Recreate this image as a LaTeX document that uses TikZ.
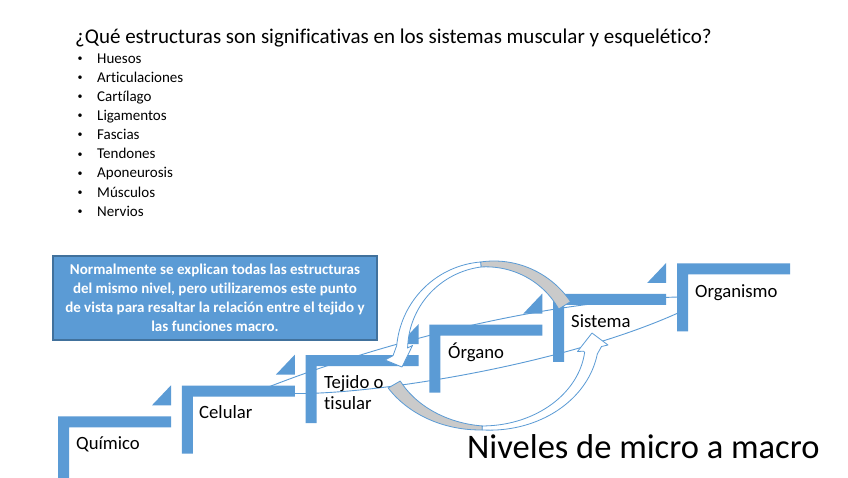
\documentclass[tikz,border=0pt]{standalone}
\usepackage{fontspec}
\setmainfont{Carlito}[Ligatures=NoCommon]
\definecolor{stepblue}{HTML}{5B9BD5}
\definecolor{boxedge}{HTML}{41719C}
\definecolor{ribbongray}{HTML}{CACACA}
\begin{document}
\begin{tikzpicture}[x=1pt,y=-1pt,
  stepshape/.style={fill=stepblue},
  lensline/.style={draw=stepblue, line width=0.9pt},
  ribbon/.style={draw=stepblue, line width=0.8pt, line join=round},
  lbl/.style={anchor=base west, inner sep=0pt, font=\fontsize{18.7}{22}\selectfont},
  listitem/.style={anchor=base west, inner sep=0pt, font=\fontsize{15}{18}\selectfont},
  dot/.style={anchor=base west, inner sep=0pt, font=\fontsize{10}{12}\selectfont},
  note/.style={fill=stepblue, draw=boxedge, line width=1.2pt, text=white, align=center,
    font=\bfseries\fontsize{15}{19}\selectfont, minimum width=324pt, minimum height=84pt, inner sep=0pt}
]
\useasboundingbox (0,0) rectangle (848,477);
\fill[white] (0,0) rectangle (848,477);

% title and list
\node[anchor=base west, inner sep=0pt, font=\fontsize{21}{25}\selectfont] (titulo) at (75,43)
  {¿Qué estructuras son significativas en los sistemas muscular y esquelético?};
\foreach \nm [count=\k from 0] in {Huesos, Articulaciones, Cartílago, Ligamentos, Fascias, Tendones, Aponeurosis, Músculos, Nervios} {
  \node[listitem] (b\k) at (97, 63+19.15*\k) {\nm};
  \node[dot] (d\k) at (77.5, 61.3+19.15*\k) {•};
}

% lens lines (behind the steps)
\coordinate (lensL) at (262,389.5);
\coordinate (lensU) at (678,297);
\coordinate (lensD) at (678,313);
\draw[lensline] (lensL) .. controls (400,335) and (560,300) .. (lensU);
\draw[lensline] (lensL) .. controls (300,405) and (540,375) .. (lensD);

% steps
\foreach \i in {0,...,5} {
  \pgfmathsetmacro\xa{58+123.8*\i}
  \pgfmathsetmacro\ya{416.3-30.6*\i}
  \fill[stepshape] (\xa,\ya) -- ++(113,0) -- ++(0,11) -- ++(-102,0) -- ++(0,57) -- ++(-11,0) -- cycle;
}
\foreach \i in {0,...,4} {
  \pgfmathsetmacro\xa{58+123.8*\i}
  \pgfmathsetmacro\ya{416.3-30.6*\i}
  \fill[stepshape] (\xa+94,\ya-11) -- (\xa+113,\ya-11) -- (\xa+113,\ya-31) -- cycle;
}

% note box
\node[note] (nota) at (215,298) {Normalmente se explican todas las estructuras\\del mismo nivel, pero utilizaremos este punto\\de vista para resaltar la relación entre el tejido y\\las funciones macro.};

% curved arrow A (top, pointing down to Tejido)
\filldraw[ribbon, fill=ribbongray]
  plot[domain=32:96, samples=40] ({490+(95-4.5*(\x-32)/64)*cos(\x)}, {352-(95-4.5*(\x-32)/64)*sin(\x)})
  -- plot[domain=96:32, samples=40] ({490+(81+4.5*(\x-32)/64)*cos(\x)}, {352-(81+4.5*(\x-32)/64)*sin(\x)})
  -- cycle;
\filldraw[ribbon, fill=white]
  plot[domain=96:176, samples=40] ({490+(90.5+3*(\x-96)/80)*cos(\x)}, {352-(90.5+3*(\x-96)/80)*sin(\x)})
  -- (393,355.7) -- (385,360) -- (402,367) -- (412.5,345.5) -- (407.5,348)
  -- plot[domain=176:96, samples=40] ({490+(85.5-3*(\x-96)/80)*cos(\x)}, {352-(85.5-3*(\x-96)/80)*sin(\x)})
  -- cycle;

% curved arrow B (bottom, pointing up to Sistema)
\filldraw[ribbon, fill=ribbongray]
  plot[domain=210:268, samples=40] ({486+(113-5*(\x-210)/58)*cos(\x)}, {341-(94-5*(\x-210)/58)*sin(\x)})
  -- plot[domain=268:210, samples=40] ({486+(99+5*(\x-210)/58)*cos(\x)}, {341-(80+5*(\x-210)/58)*sin(\x)})
  -- cycle;
\filldraw[ribbon, fill=white]
  plot[domain=268:352, samples=40] ({486+(108+4.5*(\x-268)/86)*cos(\x)}, {341-(89+4.5*(\x-268)/86)*sin(\x)})
  -- (601.5,346.5) -- (608,345) -- (592,333) -- (577.5,351.5) -- (583.5,351.2)
  -- plot[domain=352:268, samples=40] ({486+(104-4.5*(\x-268)/86)*cos(\x)}, {341-(85-4.5*(\x-268)/86)*sin(\x)})
  -- cycle;

% step labels
\node[lbl] (quimico) at (76,449.5) {Químico};
\node[lbl] (celular) at (199,418.5) {Celular};
\node[lbl] (tejido) at (324,388) {Tejido o};
\node[lbl] (tisular) at (324,409.5) {tisular};
\node[lbl] (organo) at (448,358) {Órgano};
\node[lbl] (sistema) at (571,327) {Sistema};
\node[lbl] (organismo) at (695,297) {Organismo};

\node[anchor=base west, inner sep=0pt, font=\fontsize{34.5}{40}\selectfont] (niveles) at (467,458) {Niveles de micro a macro};
\end{tikzpicture}
\end{document}
